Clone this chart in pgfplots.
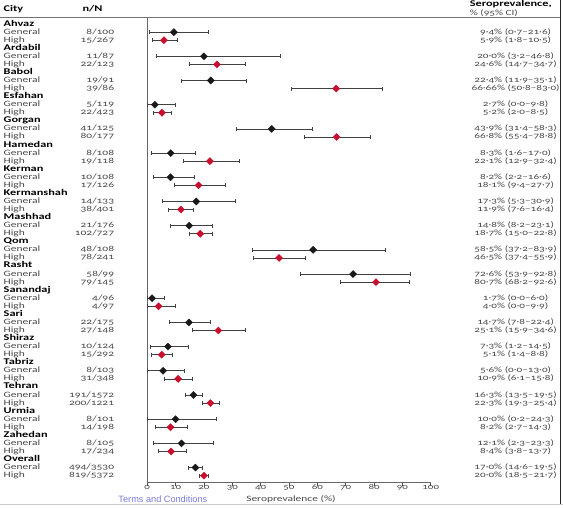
\documentclass[border=0pt]{standalone}
\usepackage{fontspec}
\setmainfont{Carlito}[Numbers=OldStyle, FakeStretch=1.4]
\newfontfamily\arialf{Liberation Sans}
\usepackage{pgfplots}
\usepackage{pgfplotstable}
\pgfplotsset{compat=1.18}
\definecolor{hired}{HTML}{C8102E}
\definecolor{txt}{HTML}{484848}
\definecolor{link}{HTML}{7B7BD6}

% row = position in the list (header rows 0,3,6,...)
\pgfplotstableread{
row est lo hi
1  9.4  0.7 21.6
4  20.0 3.2 46.8
7  22.4 11.9 35.1
10 2.7  0.0 9.8
13 43.9 31.4 58.3
16 8.3  1.6 17.0
19 8.2  2.2 16.6
22 17.3 5.3 30.9
25 14.8 8.2 23.1
28 58.5 37.2 83.9
31 72.6 53.9 92.8
34 1.7  0.0 6.0
37 14.7 7.8 22.4
40 7.3  1.2 14.5
43 5.6  0.0 13.0
46 16.3 13.5 19.5
49 10.0 0.2 24.3
52 12.1 2.3 23.3
55 17.0 14.6 19.5
}\gen
\pgfplotstableread{
row est lo hi
2  5.9  1.8 10.5
5  24.6 14.7 34.7
8  66.66 50.8 83.0
11 5.2  2.0 8.5
14 66.8 55.4 78.8
17 22.1 12.9 32.4
20 18.1 9.4 27.7
23 11.9 7.6 16.4
26 18.7 15.0 22.8
29 46.5 37.4 55.9
32 80.7 68.2 92.6
35 4.0  0.0 9.9
38 25.1 15.9 34.6
41 5.1  1.4 8.8
44 10.9 6.1 15.8
47 22.3 19.3 25.4
50 8.2  2.7 14.3
53 8.4  3.8 13.7
56 20.0 18.5 21.7
}\high

\newcommand{\grp}[6]{%
  \pgfmathsetmacro{\yh}{-(23.62+#1*24.234)}%
  \pgfmathsetmacro{\yg}{\yh-8.078}%
  \pgfmathsetmacro{\yi}{\yh-16.156}%
  \node[city] at (3pt,\yh pt) {#2};
  \node[lab] at (3pt,\yg pt) {General};
  \node[lab] at (3pt,\yi pt) {High};
  \node[nn] at (114pt,\yg pt) {#3};
  \node[nn] at (114pt,\yi pt) {#4};
  \node[val] at (516pt,\yg pt) {#5};
  \node[val] at (516pt,\yi pt) {#6};
}

\begin{document}
\begin{tikzpicture}[
  every node/.style={inner sep=0pt, text height=5.6pt, text depth=1.6pt},
  city/.style={anchor=west, font=\fontsize{8.8}{9}\selectfont\bfseries, text=black},
  lab/.style={anchor=west, font=\fontsize{8.2}{9}\selectfont, text=txt},
  nn/.style={anchor=east, font=\fontsize{8.2}{9}\selectfont, text=txt},
  val/.style={anchor=center, font=\fontsize{8}{9}\selectfont, text=txt}]
\path (0pt,0pt) rectangle (563pt,-508pt);
\begin{axis}[
  at={(147pt,-483pt)}, anchor=south west,
  scale only axis, width=284pt, height=466pt,
  xmin=0, xmax=100, ymin=-56.87, ymax=0.82,
  axis x line*=bottom, axis y line*=left,
  ytick=\empty, xtick={0,10,...,100},
  tick align=outside, major tick length=3pt,
  every tick/.style={black!70, line width=0.6pt},
  x axis line style={black!60, line width=0.8pt, -},
  y axis line style={black!60, line width=1.3pt, -},
  x tick label style={font=\fontsize{7.8}{8}\selectfont, text=txt, yshift=1.5pt},
  /pgf/number format/assume math mode=true,
  clip=false,
  error bars/error bar style={black!75, line width=0.65pt},
  error bars/error mark options={black!75, line width=0.65pt, mark size=2pt, rotate=90},
]
\addplot[only marks, mark=square*, mark size=2.5pt,
  mark options={rotate=45, fill=black!90, draw=black!90},
  error bars/.cd, x dir=both, x explicit]
  table[x=est, y expr=-\thisrow{row},
        x error plus expr=\thisrow{hi}-\thisrow{est},
        x error minus expr=\thisrow{est}-\thisrow{lo}] {\gen};
\addplot[only marks, mark=square*, mark size=2.5pt,
  mark options={rotate=45, fill=hired, draw=hired},
  error bars/.cd, x dir=both, x explicit]
  table[x=est, y expr=-\thisrow{row},
        x error plus expr=\thisrow{hi}-\thisrow{est},
        x error minus expr=\thisrow{est}-\thisrow{lo}] {\high};
\end{axis}
% header
\node[city, anchor=west] at (3pt,-9pt) {City};
\node[city, anchor=west] at (82pt,-9pt) {n/N};
\node[city, anchor=west] at (470pt,-4.5pt) {Seroprevalence,};
\node[val, anchor=west] at (470pt,-13pt) {\% (95\% CI)};
\draw[black!55, line width=0.8pt] (0pt,-17pt) -- (560pt,-17pt);
\draw[black!85, line width=1pt] (560.5pt,0pt) -- (560.5pt,-504pt);
\draw[black!20, line width=1pt] (0pt,-505pt) -- (563pt,-505pt);
\grp{0}{Ahvaz}{8/100}{15/267}{9·4\% (0·7–21·6)}{5·9\% (1·8–10·5)}
\grp{1}{Ardabil}{11/87}{22/123}{20·0\% (3·2–46·8)}{24·6\% (14·7–34·7)}
\grp{2}{Babol}{19/91}{39/86}{22·4\% (11·9–35·1)}{66·66\% (50·8–83·0)}
\grp{3}{Esfahan}{5/119}{22/423}{2·7\% (0·0–9·8)}{5·2\% (2·0–8·5)}
\grp{4}{Gorgan}{41/125}{80/177}{43·9\% (31·4–58·3)}{66·8\% (55·4–78·8)}
\grp{5}{Hamedan}{8/108}{19/118}{8·3\% (1·6–17·0)}{22·1\% (12·9–32·4)}
\grp{6}{Kerman}{10/108}{17/126}{8·2\% (2·2–16·6)}{18·1\% (9·4–27·7)}
\grp{7}{Kermanshah}{14/133}{38/401}{17·3\% (5·3–30·9)}{11·9\% (7·6–16·4)}
\grp{8}{Mashhad}{21/176}{102/727}{14·8\% (8·2–23·1)}{18·7\% (15·0–22·8)}
\grp{9}{Qom}{48/108}{78/241}{58·5\% (37·2–83·9)}{46·5\% (37·4–55·9)}
\grp{10}{Rasht}{58/99}{79/145}{72·6\% (53·9–92·8)}{80·7\% (68·2–92·6)}
\grp{11}{Sanandaj}{4/96}{4/97}{1·7\% (0·0–6·0)}{4·0\% (0·0–9·9)}
\grp{12}{Sari}{22/175}{27/148}{14·7\% (7·8–22·4)}{25·1\% (15·9–34·6)}
\grp{13}{Shiraz}{10/124}{15/292}{7·3\% (1·2–14·5)}{5·1\% (1·4–8·8)}
\grp{14}{Tabriz}{8/103}{31/348}{5·6\% (0·0–13·0)}{10·9\% (6·1–15·8)}
\grp{15}{Tehran}{191/1572}{200/1221}{16·3\% (13·5–19·5)}{22·3\% (19·3–25·4)}
\grp{16}{Urmia}{8/101}{14/198}{10·0\% (0·2–24·3)}{8·2\% (2·7–14·3)}
\grp{17}{Zahedan}{8/105}{17/234}{12·1\% (2·3–23·3)}{8·4\% (3·8–13·7)}
\grp{18}{Overall}{494/3530}{819/5372}{17·0\% (14·6–19·5)}{20·0\% (18·5–21·7)}
% footer
\node[lab] at (291pt,-500pt) [anchor=center] {Seroprevalence (\%)};
\node[anchor=west, font=\arialf\fontsize{9.2}{10}\selectfont, text=link, text height=6.4pt, text depth=1.8pt] at (118pt,-501pt) {Terms and Conditions};
\end{tikzpicture}
\end{document}
